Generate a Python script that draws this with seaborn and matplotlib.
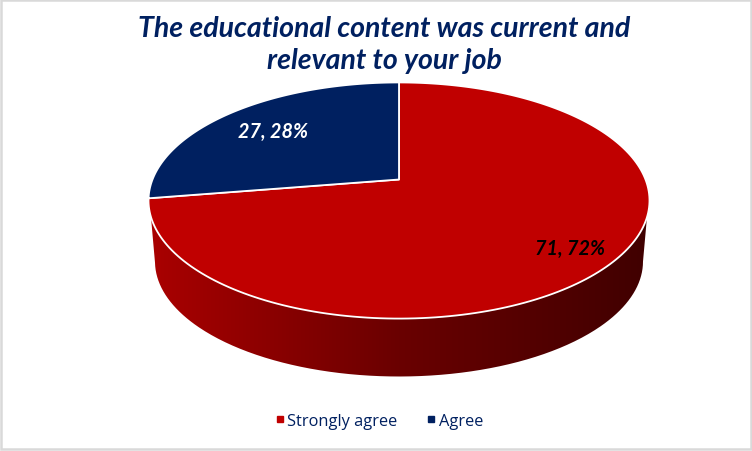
import numpy as np
import matplotlib
matplotlib.use("Agg")
import matplotlib.pyplot as plt
from matplotlib.lines import Line2D
from matplotlib.patches import PathPatch, Rectangle
from matplotlib.path import Path
import seaborn as sns

# data
title = "The educational content was current and\nrelevant to your job"
categories = ["Strongly agree", "Agree"]
counts = [71, 27]
percents = [72, 28]

RED = "#c00000"
NAVY = "#002060"

sns.set_style("white")
plt.rcParams["font.family"] = ["Lato", "DejaVu Sans"]

# tilted disc: unit circle mapped to pixels through a perspective transform
CX, CY = 399, 180.5
A0, A, C = 246.5, -82.2, 0.178


def top_disc(u, v):
    w = 1 + C * v
    return CX + A0 * u / w, (A * v + CY) / w


def wedge(start, stop):
    t = np.radians(np.linspace(start, stop, 200))
    x, y = top_disc(np.sin(t), np.cos(t))
    return np.r_[CX, x, CX], np.r_[CY, y, CY]


fig, ax = plt.subplots(figsize=(7.52, 4.52), dpi=100)
ax.set_position([0, 0, 1, 1])
ax.set_xlim(0, 752)
ax.set_ylim(452, 0)
ax.axis("off")

# chart border
ax.add_patch(Rectangle((0.5, 0.5), 750, 449.5, fill=False, ec="#d9d9d9", lw=1.8))

# side wall with the gradient, clipped to the outline of the two discs
t_low = np.radians(np.linspace(97, 263, 300))
top_x, top_y = top_disc(np.sin(t_low), np.cos(t_low))
t_bot = np.radians(np.linspace(270, 90, 300))
bot_x = 399 + 244 * np.sin(t_bot)
bot_y = 262.5 - 115 * np.cos(t_bot)
wall = Path(np.c_[np.r_[top_x, bot_x], np.r_[top_y, bot_y]])
wall_patch = PathPatch(wall, fc="none", ec="none")
ax.add_patch(wall_patch)
wall_cmap = sns.blend_palette(["#aa0000", "#6a0000", "#400000"], as_cmap=True)
img = ax.imshow(np.linspace(0, 1, 256)[None, :], cmap=wall_cmap, extent=(148, 650, 380, 190), aspect="auto", zorder=2)
img.set_clip_path(wall_patch)
ax.set_xlim(0, 752)
ax.set_ylim(452, 0)

# slices, clockwise from twelve o'clock
edges = np.cumsum([0] + counts) / sum(counts) * 360
for i, color in enumerate([RED, NAVY]):
    x, y = wedge(edges[i], edges[i + 1])
    ax.fill(x, y, fc=color, ec="white", lw=1.3, joinstyle="round", zorder=3)

# slice labels
ax.text(570, 249, f"{counts[0]}, {percents[0]}%", color="black", fontsize=14.2, fontweight="bold", fontstyle="italic", ha="center", va="center", zorder=4)
ax.text(273, 132, f"{counts[1]}, {percents[1]}%", color="white", fontsize=14.2, fontweight="bold", fontstyle="italic", ha="center", va="center", zorder=4)

ax.text(384, 45, title, color=NAVY, fontsize=20.5, fontweight="bold", fontstyle="italic", ha="center", va="center", linespacing=1.25)

handles = [Line2D([], [], ls="", marker="s", ms=4.2, color=c) for c in [RED, NAVY]]
ax.legend(handles, categories, loc="center", bbox_to_anchor=(379 / 752, 1 - 422 / 452), ncol=2, frameon=False,
          handlelength=0.6, handletextpad=0.15, columnspacing=1.75, labelcolor=NAVY, prop={"family": "Open Sans", "size": 11.8})

fig.savefig("out.png", dpi=100)
